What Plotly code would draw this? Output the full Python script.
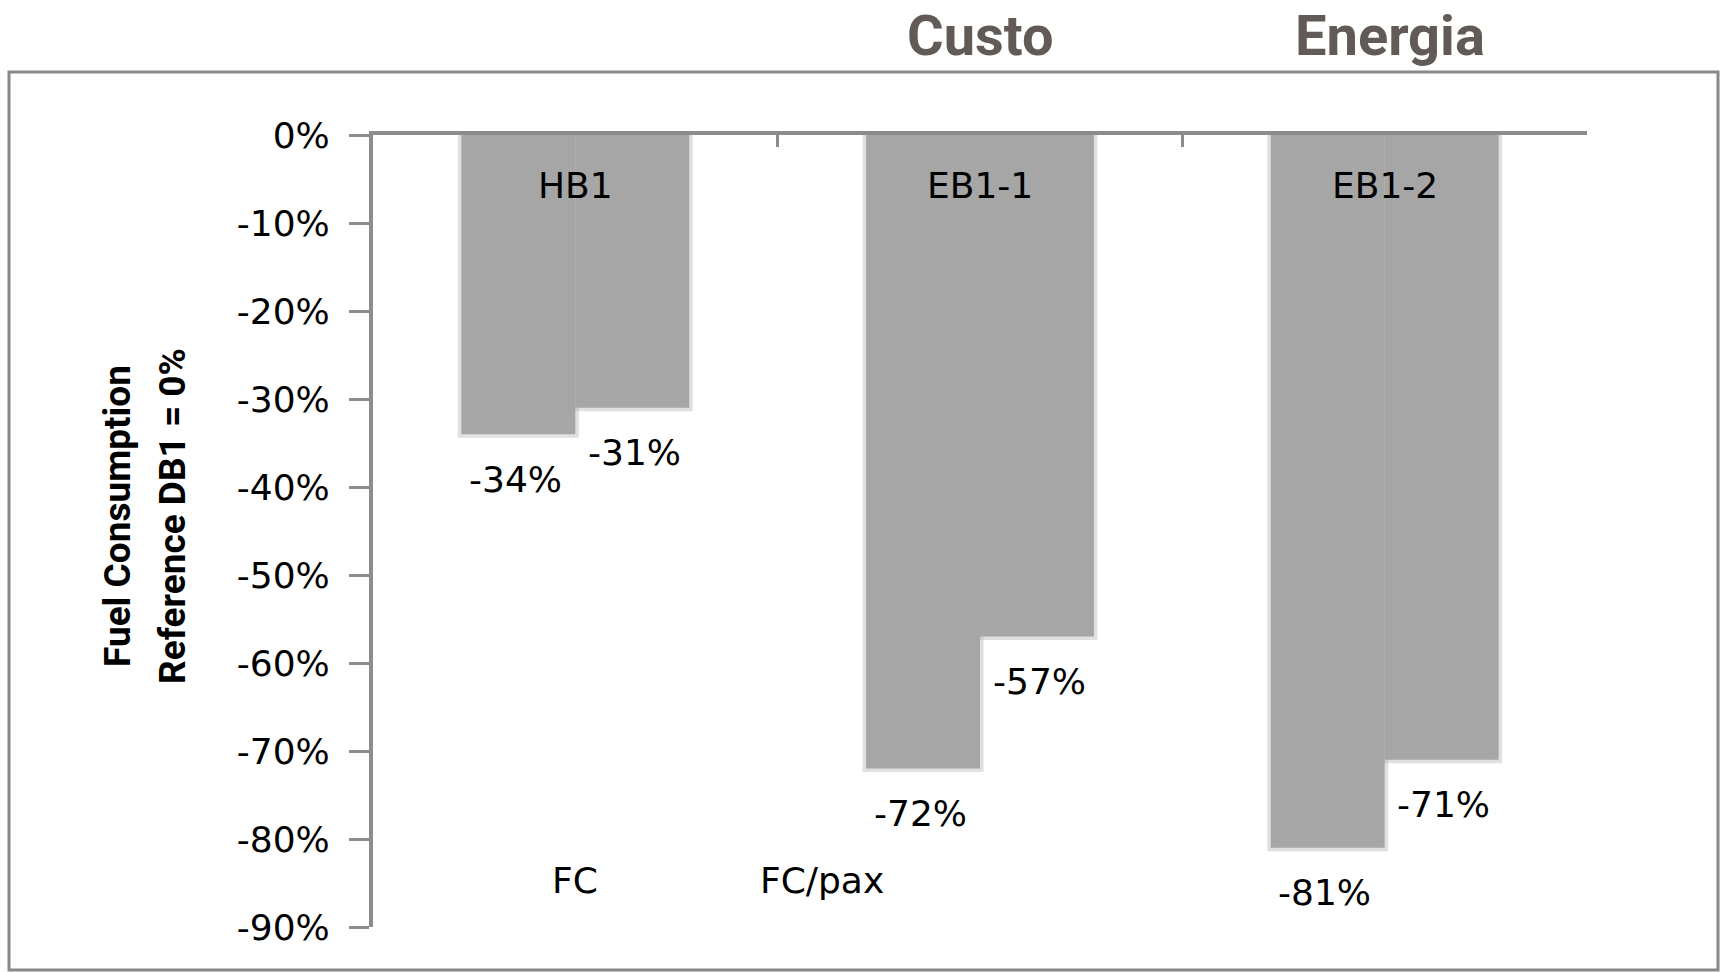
import plotly.graph_objects as go

categories = ["HB1", "EB1-1", "EB1-2"]
fc_values = [-34, -72, -81]
fcpax_values = [-31, -57, -71]
series_names = ["FC", "FC/pax"]
y_ticks = [0, -10, -20, -30, -40, -50, -60, -70, -80, -90]
y_tick_labels = [f"{v}%" for v in y_ticks]
titles = ["Custo", "Energia"]
y_title_lines = ["Fuel Consumption", "Reference DB1 = 0%"]

BAR = "#a6a6a6"
GLOW = "rgba(166,166,166,0.35)"
AXIS = "#8c8c8c"
NUM_FONT = "DejaVu Sans"
NARROW = "Roboto, Liberation Sans Narrow, sans-serif"
FS = 36

fig = go.Figure()
for name, vals in zip(series_names, [fc_values, fcpax_values]):
    fig.add_trace(go.Bar(
        x=categories, y=vals, name=name,
        marker=dict(color=BAR, line=dict(color=GLOW, width=7)),
        showlegend=False, hoverinfo="skip",
    ))

W, H = 1721, 972
L, R, T, B = 373, 134, 135, 45
pw, ph = W - L - R, H - T - B

fig.update_layout(
    width=W, height=H,
    margin=dict(l=L, r=R, t=T, b=B),
    paper_bgcolor="white", plot_bgcolor="white",
    barmode="group", bargap=0.437, bargroupgap=0,
    font=dict(family=NUM_FONT, size=FS, color="black"),
)
fig.update_xaxes(
    side="top", showline=True, linecolor=AXIS, linewidth=4,
    ticks="inside", tickson="boundaries", ticklen=12, tickwidth=3, tickcolor=AXIS,
    showticklabels=False, showgrid=False, zeroline=False,
    range=[-0.5, 2.5],
)
fig.update_yaxes(
    range=[-90, 0], tickvals=y_ticks, ticktext=y_tick_labels,
    showline=True, linecolor=AXIS, linewidth=4,
    ticks="outside", ticklen=20, tickwidth=3, tickcolor=AXIS,
    ticklabelstandoff=12,
    tickfont=dict(family=NUM_FONT, size=FS, color="black"),
    showgrid=False, zeroline=False,
)

def px_x(x):
    return (x - L) / pw

def px_y(y):
    return (H - B - y) / ph

fig.add_shape(type="rect", xref="paper", yref="paper",
              x0=px_x(9), x1=px_x(1718), y0=px_y(970), y1=px_y(72),
              line=dict(color="#888888", width=3), layer="below")

ann = []
for t, xc in zip(titles, [980, 1390]):
    ann.append(dict(text=f"<b>{t}</b>", x=px_x(xc), y=px_y(36), xref="paper", yref="paper",
                    showarrow=False, xanchor="center", yanchor="middle",
                    font=dict(family=NARROW, size=56, color="#625a57")))
for line, xc in zip(y_title_lines, [117, 172]):
    ann.append(dict(text=f"<b>{line}</b>", x=px_x(xc), y=px_y(516), xref="paper", yref="paper",
                    showarrow=False, textangle=-90, xanchor="center", yanchor="middle",
                    font=dict(family=NARROW, size=37, color="black")))
for c in categories:
    ann.append(dict(text=c, x=c, y=0, xref="x", yref="y", yshift=-50,
                    showarrow=False, xanchor="center", yanchor="middle",
                    font=dict(family=NUM_FONT, size=FS, color="black")))
for vals, xs in zip([fc_values, fcpax_values], [-60, 59]):
    for c, v in zip(categories, vals):
        ann.append(dict(text=f"{v}%", x=c, y=v, xref="x", yref="y",
                        xshift=xs, yshift=-45, showarrow=False,
                        xanchor="center", yanchor="middle",
                        font=dict(family=NUM_FONT, size=FS, color="black")))
for name, xl in zip(series_names, [550, 758]):
    ann.append(dict(text=name, x=px_x(xl), y=px_y(880), xref="paper", yref="paper",
                    showarrow=False, xanchor="left", yanchor="middle",
                    font=dict(family=NUM_FONT, size=FS, color="black")))
fig.update_layout(annotations=ann)

fig.write_html("out.html", config={"displayModeBar": False},
               post_script="document.body.style.margin='0';document.body.style.overflow='hidden';")
